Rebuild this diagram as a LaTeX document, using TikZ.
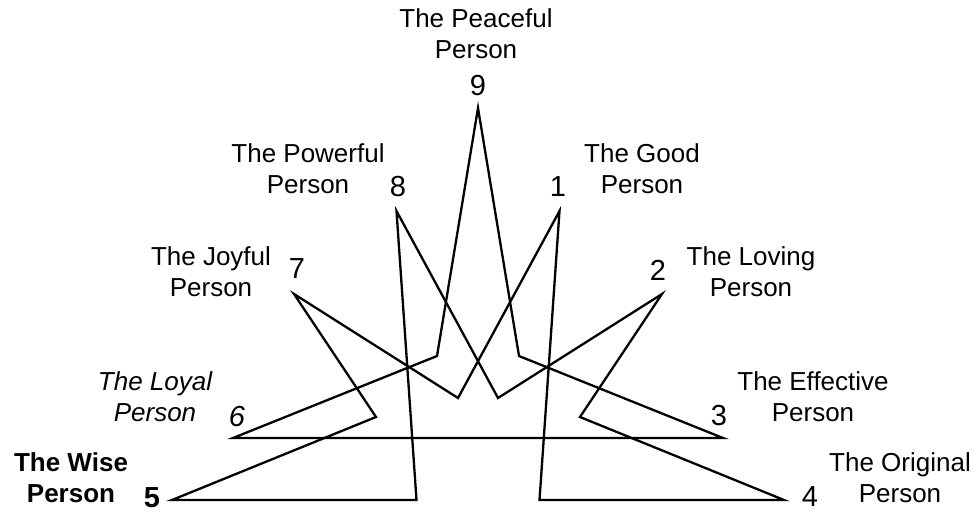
\documentclass[tikz,border=0pt]{standalone}
\usepackage{fontspec}
\setmainfont{Liberation Sans}
\begin{document}
\begin{tikzpicture}[x=1pt,y=-1pt,
  edge/.style={line width=2.3pt, line join=miter, miter limit=20},
  lab/.style={align=center, inner sep=0pt, font=\fontsize{26}{31}\selectfont},
  num/.style={inner sep=0pt, font=\fontsize{29}{34}\selectfont}]
\useasboundingbox (0,0) rectangle (974,512);
% outer points
\coordinate (p9) at (478,108);
\coordinate (p8) at (396.5,211);
\coordinate (p1) at (559.5,211);
\coordinate (p7) at (294,294);
\coordinate (p2) at (662,294);
\coordinate (p6) at (233,438);
\coordinate (p3) at (723,438);
\coordinate (p5) at (172,500);
\coordinate (p4) at (784,500);
% inner points
\coordinate (a1) at (437,356);
\coordinate (a2) at (519,356);
\coordinate (b1) at (416.5,500);
\coordinate (b4) at (539.5,500);
\coordinate (b2) at (498,398);
\coordinate (b5) at (458,398);
\coordinate (b3) at (580,417);
\coordinate (b6) at (376,417);
% figure
\draw[edge] (p9) -- (a1) -- (p6) -- (p3) -- (a2) -- cycle;
\draw[edge] (p5) -- (b1) -- (p8) -- (b2) -- (p2) -- (b3) -- (p4) -- (b4)
  -- (p1) -- (b5) -- (p7) -- (b6) -- cycle;
% numbers
\node[num] (n9) at (478,86) {9};
\node[num] (n8) at (398,187) {8};
\node[num] (n1) at (558,187) {1};
\node[num] (n7) at (297,269) {7};
\node[num] (n2) at (658,270) {2};
\node[num, font=\fontsize{29}{34}\selectfont\itshape] (n6) at (237,417) {6};
\node[num] (n3) at (719,416) {3};
\node[num, font=\fontsize{29}{34}\selectfont\bfseries] (n5) at (152,498) {5};
\node[num] (n4) at (810,497) {4};
% labels
\node[lab] (l9) at (476,34) {The Peaceful\\Person};
\node[lab] (l8) at (308,169) {The Powerful\\Person};
\node[lab] (l1) at (642,169) {The Good\\Person};
\node[lab] (l7) at (211,272) {The Joyful\\Person};
\node[lab] (l2) at (751,272) {The Loving\\Person};
\node[lab, font=\fontsize{26}{31}\selectfont\itshape] (l6) at (155,397) {The Loyal\\Person};
\node[lab] (l3) at (813,397) {The Effective\\Person};
\node[lab, font=\fontsize{26}{31}\selectfont\bfseries] (l5) at (71,478) {The Wise\\Person};
\node[lab] (l4) at (900,478) {The Original\\Person};
\end{tikzpicture}
\end{document}
